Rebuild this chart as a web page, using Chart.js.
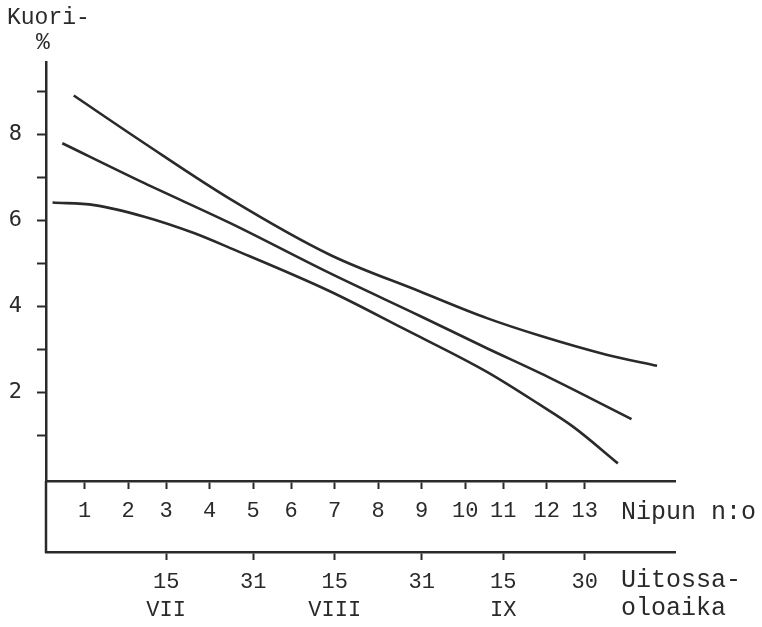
<!DOCTYPE html>
<html>
<head>
<meta charset="utf-8">
<script src="https://cdn.jsdelivr.net/npm/chart.js@4.4.0/dist/chart.umd.min.js"></script>
<style>
  html, body { margin: 0; padding: 0; background: #fff; }
  #wrap { width: 762px; height: 627px; }
</style>
</head>
<body>
<div id="wrap"><canvas id="c"></canvas></div>
<script>
// Vaaka-akselin päivät lasketaan 30.6. alkaen (15.7. = 15, 15.8. = 46, 15.9. = 77).
const nippuPaiva = [0, 8, 15, 23, 31, 38, 46, 54, 62, 70, 77, 85, 92];
const nippuNro = ['1', '2', '3', '4', '5', '6', '7', '8', '9', '10', '11', '12', '13'];

const pvmPaiva = [15, 31, 46, 62, 77, 92];
const pvmTeksti = [['15', 'VII'], '31', ['15', 'VIII'], '31', ['15', 'IX'], '30'];

const kuoriTicks = [1, 2, 3, 4, 5, 6, 7, 8, 9];
const kuoriTickTeksti = ['', '2', '', '4', '', '6', '', '8', ''];

// Luottamusvälin yläraja
const ylaPaiva = [-2.0, 11.0, 26.8, 45.2, 61.7, 74.0, 83.8, 96.0, 105.3];
const ylaKuori = [8.90, 7.79, 6.49, 5.19, 4.34, 3.72, 3.31, 2.87, 2.61];

// Regressiosuora
const keskiPaiva = [-4.1, 11.0, 26.8, 45.2, 61.7, 74.0, 83.8, 93.0, 100.6];
const keskiKuori = [7.79, 6.86, 5.93, 4.76, 3.77, 3.02, 2.44, 1.86, 1.37];

// Luottamusvälin alaraja
const alaPaiva = [-5.9, 1.8, 11.0, 20.1, 26.8, 45.2, 58.6, 74.0, 83.8, 89.9, 98.1];
const alaKuori = [6.41, 6.35, 6.08, 5.70, 5.35, 4.34, 3.48, 2.47, 1.70, 1.19, 0.34];

const INK = '#2a2a2a';
const MONO = '"Liberation Mono", "Courier New", monospace';
const SANSMONO = '"DejaVu Sans Mono", monospace';

const pisteet = (xs, ys) => xs.map((x, i) => ({ x: x, y: ys[i] }));

const kayra = (nimi, xs, ys) => ({
  label: nimi,
  data: pisteet(xs, ys),
  borderColor: INK,
  borderWidth: 2.6,
  pointRadius: 0,
  fill: false,
  cubicInterpolationMode: 'monotone',
  xAxisID: 'x',
  yAxisID: 'y'
});

// Akseliviivan jatke ja akseleiden nimet
const kehys = {
  id: 'kehys',
  afterDraw(chart) {
    const { ctx, chartArea, scales } = chart;
    ctx.save();
    ctx.strokeStyle = INK;
    ctx.lineWidth = 2.5;
    ctx.beginPath();
    ctx.moveTo(chartArea.left, chartArea.bottom);
    ctx.lineTo(chartArea.left, scales.x2.top + 1);
    ctx.stroke();

    ctx.fillStyle = INK;
    ctx.textAlign = 'left';
    ctx.textBaseline = 'middle';

    ctx.font = '23px ' + MONO;
    ctx.fillText('Kuori-', 7, 18);
    ctx.textAlign = 'center';
    ctx.fillText('%', chartArea.left - 3, 43);

    ctx.textAlign = 'left';
    ctx.font = '25px ' + MONO;
    const tx = chartArea.right - 54;
    ctx.fillText('Nipun n:o', tx, scales.x.top + 31);
    ctx.fillText('Uitossa-', tx, scales.x2.top + 28);
    ctx.fillText('oloaika', tx, scales.x2.top + 56);
    ctx.restore();
  }
};

new Chart(document.getElementById('c'), {
  type: 'line',
  data: {
    datasets: [
      kayra('yläraja', ylaPaiva, ylaKuori),
      kayra('regressio', keskiPaiva, keskiKuori),
      kayra('alaraja', alaPaiva, alaKuori)
    ]
  },
  options: {
    responsive: true,
    maintainAspectRatio: false,
    animation: false,
    layout: { padding: { left: 0, right: 87, top: 62, bottom: 0 } },
    plugins: {
      legend: { display: false },
      tooltip: { enabled: false }
    },
    scales: {
      x: {
        type: 'linear',
        position: 'bottom',
        min: -7.1,
        max: 108.6,
        afterBuildTicks: (a) => { a.ticks = nippuPaiva.map(v => ({ value: v })); },
        afterFit: (a) => { a.height = 71; },
        ticks: {
          autoSkip: false,
          maxRotation: 0,
          padding: 8,
          color: INK,
          font: { family: MONO, size: 22, lineHeight: 1.27 },
          callback: (v, i) => nippuNro[i]
        },
        grid: {
          drawOnChartArea: false,
          drawTicks: true,
          tickLength: 8,
          tickWidth: 2,
          tickColor: INK
        },
        border: { display: true, color: INK, width: 2.5 }
      },
      x2: {
        type: 'linear',
        position: 'bottom',
        min: -7.1,
        max: 108.6,
        afterBuildTicks: (a) => { a.ticks = pvmPaiva.map(v => ({ value: v })); },
        afterFit: (a) => { a.height = 75; },
        ticks: {
          autoSkip: false,
          maxRotation: 0,
          padding: 8,
          color: INK,
          font: { family: MONO, size: 22, lineHeight: 1.27 },
          callback: (v, i) => pvmTeksti[i]
        },
        grid: {
          drawOnChartArea: false,
          drawTicks: true,
          tickLength: 8,
          tickWidth: 2,
          tickColor: INK
        },
        border: { display: true, color: INK, width: 2.5 }
      },
      y: {
        type: 'linear',
        position: 'left',
        min: -0.07,
        max: 9.68,
        afterBuildTicks: (a) => { a.ticks = kuoriTicks.map(v => ({ value: v })); },
        afterFit: (a) => { a.width = 46; },
        ticks: {
          padding: 15,
          color: INK,
          font: { family: SANSMONO, size: 22 },
          callback: (v, i) => kuoriTickTeksti[i]
        },
        grid: {
          drawOnChartArea: false,
          drawTicks: true,
          tickLength: 9,
          tickWidth: 2,
          tickColor: INK
        },
        border: { display: true, color: INK, width: 2.5 }
      }
    }
  },
  plugins: [kehys]
});
</script>
</body>
</html>
